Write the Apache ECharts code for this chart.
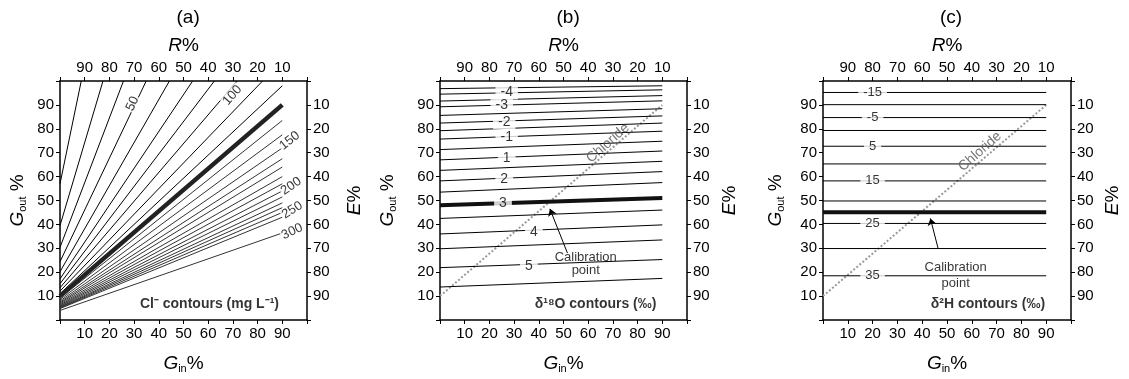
<!DOCTYPE html>
<html>
<head>
<meta charset="utf-8">
<script src="https://cdn.jsdelivr.net/npm/echarts@6/dist/echarts.min.js"></script>
<style>
  html, body { margin: 0; padding: 0; background: #fff; }
  #chart { width: 1129px; height: 379px; }
</style>
</head>
<body>
<div id="chart"></div>
<script>
// tick labels shared by every axis
const tickLabels = [10, 20, 30, 40, 50, 60, 70, 80, 90];

// (a) chloride contours: G_out at G_in = 0, and where each line ends
const clLevels = [20, 30, 40, 50, 60, 70, 80, 90, 100, 110, 120, 130, 140, 150, 160, 170, 180, 190, 200, 210, 220, 230, 240, 250, 300];
const clLeft = [57, 39.5, 30.4, 24.4, 20.2, 17.2, 15.2, 13.5, 12.1, 11, 10, 9.2, 8.6, 8, 7.5, 7.1, 6.7, 6.3, 6, 5.7, 5.4, 5.2, 5, 4.8, 4];
const clEndX = [8.6, 17.4, 25.7, 34.9, 44.3, 53.7, 62.5, 71.7, 82, 90, 90, 90, 90, 90, 90, 90, 90, 90, 90, 90, 90, 90, 90, 90, 90];
const clEndY = [100, 100, 100, 100, 100, 100, 100, 100, 100, 98, 90, 83.5, 77.5, 72, 67.5, 64, 60, 57, 54, 51.5, 49, 47, 45, 43, 36.4];
const clCalibration = 120;
const clLabelText = ['50', '100', '150', '200', '250', '300'];
const clLabelX = [29.4, 69.8, 93, 93.6, 94, 94];
const clLabelY = [90.5, 94, 75, 56, 46, 37];
const clLabelRot = [65, 49, 38, 35, 32, 25];

// (b) δ18O contours: G_out at G_in = 0 and at G_in = 90
const oLeft = [96.8, 94.5, 91.6, 89.2, 85.6, 82.4, 79.2, 75.7, 71.3, 67.0, 62.6, 58.2, 53.5, 48.0, 42.5, 36.0, 29.8, 21.9, 13.8];
const oRight = [98.0, 96.3, 93.9, 91.7, 88.4, 85.4, 82.4, 79.0, 74.8, 70.7, 66.4, 62.1, 57.5, 51.0, 46.0, 39.8, 33.5, 25.3, 17.4];
const oCalibIndex = 13;
const oLabelText = ['-4', '-3', '-2', '-1', '1', '2', '3', '4', '5'];
const oLabelX = [27, 25, 26, 27, 27, 26, 25.5, 38, 36];
const oLabelY = [95.2, 90.1, 82.8, 76.4, 67.6, 58.9, 48.8, 36.7, 22.5];

// (c) δ2H contours: flat lines
const hLevels = [-15, -10, -5, 0, 5, 10, 15, 20, 25, 30, 35];
const hY = [95.2, 90.1, 84.7, 79.3, 72.7, 65.3, 58.2, 49.8, 40.4, 29.9, 18.5];
const hCalibY = 45.1;
const hLabelText = ['-15', '-5', '5', '15', '25', '35'];
const hLabelY = [95.2, 84.7, 72.7, 58.2, 40.4, 18.5];
const hLabelX = 20;

// chloride line through panels (b) and (c)
const chlorideX = [0, 90];
const chlorideY = [10, 90];

const font = 'Liberation Sans, Arial, sans-serif';
const grids = [
  { left: 60, top: 81, width: 247, height: 248 },
  { left: 440, top: 81, width: 247, height: 248 },
  { left: 823, top: 81, width: 248, height: 248 }
];
// distance of the axis names from the frame, per panel
const leftGap = [32, 42, 37];
const rightGap = [38, 33, 32];

const rich = {
  i: { fontFamily: font, fontStyle: 'italic', fontSize: 19, color: '#000' },
  s: { fontFamily: font, fontSize: 11, color: '#000', verticalAlign: 'bottom', padding: [9, 0, 0, 0] },
  n: { fontFamily: font, fontSize: 19, color: '#000' }
};

function axisBase(gi) {
  return {
    gridIndex: gi, type: 'value', min: 0, max: 100, interval: 10,
    axisLine: { onZero: false, lineStyle: { color: '#000', width: 1.5 } },
    axisTick: { show: true, length: 4, lineStyle: { color: '#000' } },
    splitLine: { show: false },
    axisLabel: {
      color: '#000', fontFamily: font, fontSize: 15, margin: 6,
      formatter: v => tickLabels.includes(v) ? String(v) : ''
    },
    nameLocation: 'middle',
    nameTextStyle: { rich: rich }
  };
}

const xAxes = [], yAxes = [];
grids.forEach((g, gi) => {
  xAxes.push(Object.assign(axisBase(gi), { position: 'bottom', name: '{i|G}{s|in}{n|%}', nameGap: 34 }));
  xAxes.push(Object.assign(axisBase(gi), { position: 'top', inverse: true, name: '{i|R}{n|%}', nameGap: 25 }));
  yAxes.push(Object.assign(axisBase(gi), { position: 'left', name: '{i|G}{s|out}{n| %}', nameGap: leftGap[gi], nameRotate: 90 }));
  yAxes.push(Object.assign(axisBase(gi), { position: 'right', inverse: true, name: '{i|E}{n|%}', nameGap: rightGap[gi], nameRotate: 90 }));
});

const series = [];
function line(gi, data, style) {
  series.push({
    type: 'line', xAxisIndex: gi * 2, yAxisIndex: gi * 2, data: data,
    showSymbol: false, symbol: 'none', silent: true, animation: false,
    lineStyle: Object.assign({ color: '#000', width: 1 }, style || {}), z: 2
  });
}
function texts(gi, items, style) {
  series.push({
    type: 'scatter', xAxisIndex: gi * 2, yAxisIndex: gi * 2, symbolSize: 0,
    silent: true, animation: false, z: 5,
    data: items.map(it => ({
      value: [it.x, it.y],
      label: Object.assign({
        show: true, position: 'inside', formatter: it.t, rotate: it.r || 0,
        color: '#000', fontFamily: font, fontSize: 13
      }, style || {}, it.style || {})
    }))
  });
}

// panel (a)
clLevels.forEach((lv, k) => {
  const calib = lv === clCalibration;
  line(0, [[0, clLeft[k]], [clEndX[k], clEndY[k]]], calib ? { width: 4.5, color: '#222' } : { width: 1, color: lv > clCalibration ? '#333' : '#000' });
});
texts(0, clLabelText.map((t, k) => ({ t: t, x: clLabelX[k], y: clLabelY[k], r: clLabelRot[k] })),
  { backgroundColor: '#fff', padding: [0, 1] });
texts(0, [{ t: 'Cl⁻ contours (mg L⁻¹)', x: 60.5, y: 6.5 }], { fontSize: 14, fontWeight: 'bold' });

// panel (b)
line(1, [[chlorideX[0], chlorideY[0]], [chlorideX[1], chlorideY[1]]], { color: '#999', width: 2, type: 'dotted' });
oLeft.forEach((l, k) => {
  line(1, [[0, l], [90, oRight[k]]], k === oCalibIndex ? { width: 4, color: '#111' } : { width: 1 });
});
texts(1, oLabelText.map((t, k) => ({ t: t, x: oLabelX[k], y: oLabelY[k] })),
  { backgroundColor: '#fff', padding: [0, 5], fontSize: 14 });
texts(1, [
  { t: 'Chloride', x: 68, y: 74, r: 41.6, style: { color: '#555', fontSize: 14 } },
  { t: 'Calibration', x: 59, y: 26 },
  { t: 'point', x: 59, y: 20.6 },
  { t: 'δ¹⁸O contours (‰)', x: 63, y: 6.5, style: { fontSize: 14, fontWeight: 'bold' } }
]);
series.push({
  type: 'line', xAxisIndex: 2, yAxisIndex: 2, data: [], silent: true, animation: false,
  markLine: {
    silent: true, symbol: ['none', 'arrow'], symbolSize: 7, label: { show: false },
    lineStyle: { color: '#000', width: 1, type: 'solid' },
    data: [[{ coord: [51.6, 28] }, { coord: [44.5, 46.5] }]]
  }
});

// panel (c)
line(2, [[chlorideX[0], chlorideY[0]], [chlorideX[1], chlorideY[1]]], { color: '#999', width: 2, type: 'dotted' });
hY.forEach(y => line(2, [[0, y], [90, y]], { width: 1 }));
line(2, [[0, hCalibY], [90, hCalibY]], { width: 4, color: '#111' });
texts(2, hLabelText.map((t, k) => ({ t: t, x: hLabelX, y: hLabelY[k] })),
  { backgroundColor: '#fff', padding: [0, 5], fontSize: 13 });
texts(2, [
  { t: 'Chloride', x: 63.3, y: 70.5, r: 41.6, style: { color: '#555', fontSize: 14 } },
  { t: 'Calibration', x: 53.5, y: 21.8 },
  { t: 'point', x: 53.5, y: 15.4 },
  { t: 'δ²H contours (‰)', x: 66.5, y: 6.5, style: { fontSize: 14, fontWeight: 'bold' } }
]);
series.push({
  type: 'line', xAxisIndex: 4, yAxisIndex: 4, data: [], silent: true, animation: false,
  markLine: {
    silent: true, symbol: ['none', 'arrow'], symbolSize: 7, label: { show: false },
    lineStyle: { color: '#000', width: 1, type: 'solid' },
    data: [[{ coord: [46.4, 30] }, { coord: [43.3, 42.5] }]]
  }
});

const chart = echarts.init(document.getElementById('chart'), null, { renderer: 'canvas' });
chart.setOption({
  animation: false,
  backgroundColor: '#fff',
  title: ['(a)', '(b)', '(c)'].map((t, k) => ({
    text: t, left: grids[k].left + grids[k].width / 2 - 12, top: 3,
    textStyle: { fontFamily: font, fontSize: 19, fontWeight: 'normal', color: '#000' }
  })),
  grid: grids,
  xAxis: xAxes,
  yAxis: yAxes,
  series: series
});
</script>
</body>
</html>
